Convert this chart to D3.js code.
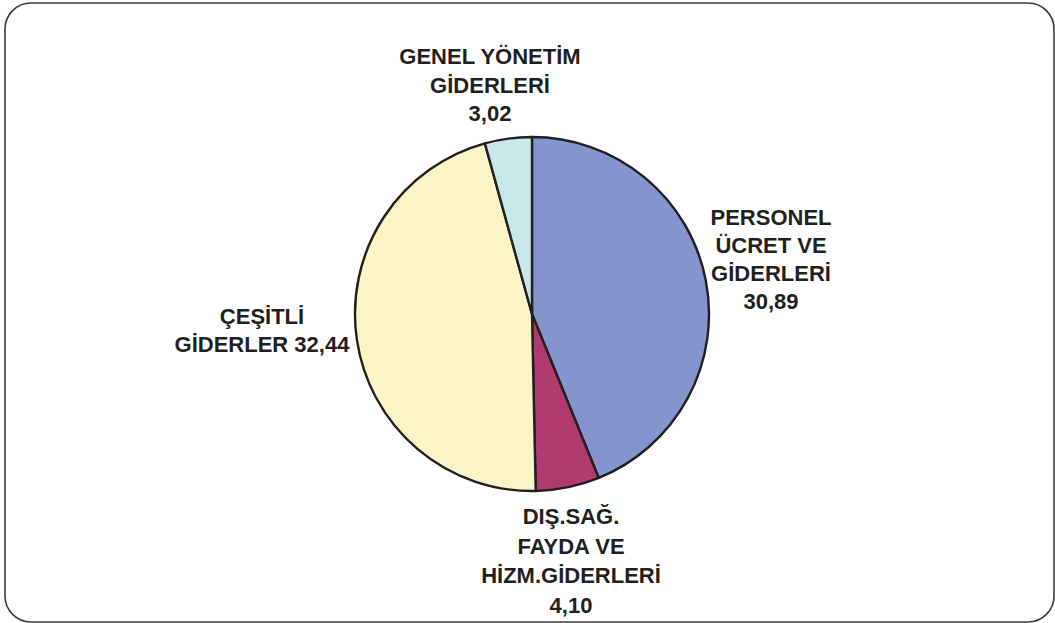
<!DOCTYPE html>
<html><head><meta charset="utf-8">
<script src="https://cdn.jsdelivr.net/npm/d3@7/dist/d3.min.js"></script>
<style>html,body{margin:0;padding:0;background:#fff;}svg{display:block;}</style>
</head><body>
<svg id="chart" width="1055" height="623"></svg>
<script>
const categories = ["PERSONEL ÜCRET VE GİDERLERİ", "DIŞ.SAĞ. FAYDA VE HİZM.GİDERLERİ", "ÇEŞİTLİ GİDERLER", "GENEL YÖNETİM GİDERLERİ"];
const values = [30.89, 4.10, 32.44, 3.02];
const valueLabels = ["30,89", "4,10", "32,44", "3,02"];
const labelLines = [
  ["PERSONEL", "ÜCRET VE", "GİDERLERİ", "30,89"],
  ["DIŞ.SAĞ.", "FAYDA VE", "HİZM.GİDERLERİ", "4,10"],
  ["ÇEŞİTLİ", "GİDERLER 32,44"],
  ["GENEL YÖNETİM", "GİDERLERİ", "3,02"]
];
const colors = ["#8495CD", "#B13A6F", "#FAF4C6", "#C8E7E8"];

const svg = d3.select("#chart");
svg.append("rect").attr("x", 5).attr("y", 3).attr("width", 1049).attr("height", 619)
  .attr("rx", 26).attr("ry", 26).attr("fill", "#fff").attr("stroke", "#3a3a3a").attr("stroke-width", 1.6);

const cx = 532, cy = 314, r = 177;
const pie = d3.pie().sort(null).value(d => d)(values);
const arc = d3.arc().innerRadius(0).outerRadius(r);
const g = svg.append("g").attr("transform", `translate(${cx},${cy})`);
g.selectAll("path").data(pie).join("path")
  .attr("d", arc).attr("fill", (d, i) => colors[i])
  .attr("stroke", "#231F20").attr("stroke-width", 2.4).attr("stroke-linejoin", "round");

// label anchor positions (center x, first baseline y)
const labelPos = [[771, 225], [571, 524], [262, 324], [490, 64]];
const lineH = [28, 29.5, 28, 28.5];
labelPos.forEach((p, i) => {
  const t = svg.append("text").attr("text-anchor", "middle")
    .attr("font-family", "Liberation Sans, Arial, sans-serif").attr("font-weight", "bold")
    .attr("font-size", 22).attr("fill", "#231F20");
  labelLines[i].forEach((ln, j) => {
    t.append("tspan").attr("x", p[0]).attr("y", p[1] + j * lineH[i]).text(ln);
  });
});
</script>
</body></html>
